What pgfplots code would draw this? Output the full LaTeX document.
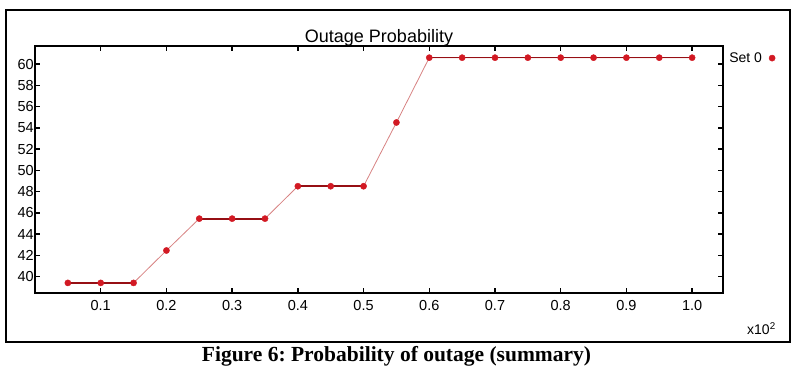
\documentclass[border=0pt]{standalone}
\usepackage{pgfplots}
\pgfplotsset{compat=1.18}
\usepackage{fontspec}
\setmainfont{Liberation Sans}
\newfontfamily\capfont{Liberation Serif}
\definecolor{dotred}{RGB}{210,25,35}
\definecolor{flatred}{RGB}{150,15,20}
\definecolor{slantred}{RGB}{215,130,130}
\begin{document}
\frenchspacing
\begin{tikzpicture}[x=1pt,y=1pt]
\useasboundingbox (0,0) rectangle (800,374);
\draw[line width=2pt] (6,32) rectangle (790,364);
\begin{axis}[
  at={(35pt,81pt)}, anchor=south west,
  scale only axis, width=688pt, height=247pt,
  xmin=0, xmax=1.047, ymin=38.45, ymax=61.7,
  xtick={0.1,0.2,0.3,0.4,0.5,0.6,0.7,0.8,0.9,1.0},
  ytick={40,42,44,46,48,50,52,54,56,58,60},
  xtick pos=both, ytick pos=both,
  xticklabel pos=lower, yticklabel pos=left,
  tick align=inside,
  major tick length=5pt,
  major tick style={line width=1.5pt, black},
  axis line style={line width=2pt},
  /pgf/number format/assume math mode=true,
  tick label style={font=\fontsize{14.5}{16}\selectfont},
  xticklabel style={yshift=-4pt, /pgf/number format/fixed, /pgf/number format/fixed zerofill, /pgf/number format/precision=1},
  yticklabel style={inner sep=1pt},
  legend plot pos=right,
  legend style={at={(rel axis cs:1.006,0.951)}, anchor=west, draw=none, fill=none,
    inner sep=0pt, column sep=5pt, font=\fontsize{14}{16}\selectfont},
]
\addplot[slantred, line width=0.8pt, forget plot] coordinates {
(0.05,39.4) (0.10,39.4) (0.15,39.4) (0.20,42.45) (0.25,45.45) (0.30,45.45) (0.35,45.45)
(0.40,48.5) (0.45,48.5) (0.50,48.5) (0.55,54.5) (0.60,60.6) (0.65,60.6) (0.70,60.6)
(0.75,60.6) (0.80,60.6) (0.85,60.6) (0.90,60.6) (0.95,60.6) (1.00,60.6)};
\addplot[flatred, line width=1.8pt, forget plot] coordinates {(0.05,39.4) (0.10,39.4) (0.15,39.4)};
\addplot[flatred, line width=1.8pt, forget plot] coordinates {(0.25,45.45) (0.30,45.45) (0.35,45.45)};
\addplot[flatred, line width=1.8pt, forget plot] coordinates {(0.40,48.5) (0.45,48.5) (0.50,48.5)};
\addplot[flatred, line width=1.2pt, forget plot] coordinates {(0.60,60.6) (0.65,60.6) (0.70,60.6)
(0.75,60.6) (0.80,60.6) (0.85,60.6) (0.90,60.6) (0.95,60.6) (1.00,60.6)};
\addplot[only marks, mark=*, mark size=3.1pt, mark options={fill=dotred, draw=dotred}] coordinates {
(0.05,39.4) (0.10,39.4) (0.15,39.4) (0.20,42.45) (0.25,45.45) (0.30,45.45) (0.35,45.45)
(0.40,48.5) (0.45,48.5) (0.50,48.5) (0.55,54.5) (0.60,60.6) (0.65,60.6) (0.70,60.6)
(0.75,60.6) (0.80,60.6) (0.85,60.6) (0.90,60.6) (0.95,60.6) (1.00,60.6)};
\addlegendentry{Set 0}
\end{axis}
\node[anchor=base, font=\fontsize{18}{20}\selectfont, inner sep=0pt] at (379,331) {Outage Probability};
\node[anchor=base west, font=\fontsize{14}{16}\selectfont, inner sep=0pt] at (747,39) {x10\textsuperscript{2}};
\node[anchor=base, font=\capfont\bfseries\fontsize{21.5}{24}\selectfont, inner sep=0pt] at (396.5,12) {Figure 6: Probability of outage (summary)};
\end{tikzpicture}
\end{document}
